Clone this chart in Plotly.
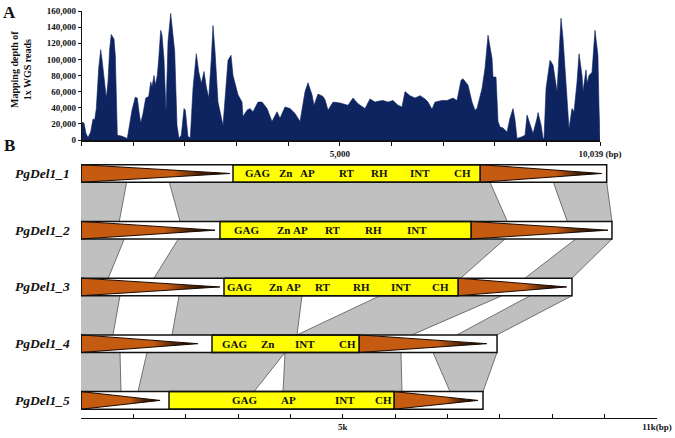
import plotly.graph_objects as go

SERIF = "Liberation Serif, Times New Roman, serif"
NAVY = "#0e2461"
ORANGE = "#c55a11"
YELLOW = "#ffff00"
GREY = "#c0c0c0"

# ---- panel A: mapping depth of 1x WGS reads along the 10,039 bp element
depth_bp = [0, 45, 83, 122, 174, 219, 252, 283, 329, 368, 393, 432, 477, 509, 542,
            573, 626, 651, 690, 767, 833, 883, 930, 974, 1038, 1077, 1110, 1143,
            1188, 1240, 1298, 1337, 1362, 1401, 1426, 1464, 1491, 1530, 1555, 1594,
            1633, 1672, 1724, 1768, 1801, 1846, 1885, 1929, 1982, 2007, 2059, 2104,
            2156, 2220, 2266, 2317, 2369, 2413, 2460, 2510, 2543, 2582, 2640, 2737,
            2834, 2892, 2931, 3028, 3105, 3124, 3202, 3260, 3318, 3415, 3493, 3590,
            3686, 3783, 3841, 3938, 4035, 4132, 4229, 4326, 4383, 4461, 4500, 4577,
            4674, 4713, 4771, 4868, 5003, 5158, 5255, 5352, 5488, 5584, 5681, 5739,
            5836, 5933, 6030, 6127, 6204, 6262, 6359, 6456, 6553, 6650, 6708, 6785,
            6843, 6979, 7076, 7192, 7269, 7347, 7386, 7483, 7560, 7618, 7657, 7754,
            7812, 7870, 7948, 7967, 8025, 8064, 8103, 8161, 8238, 8296, 8354, 8393,
            8432, 8529, 8587, 8626, 8684, 8742, 8819, 8839, 8897, 8936, 8955, 8994,
            9071, 9129, 9207, 9245, 9284, 9323, 9400, 9439, 9497, 9536, 9594, 9633,
            9691, 9710, 9768, 9788, 9826, 9884, 9942, 9999, 10020, 10039]
depth_k = [22, 21, 8, 3, 10, 26, 25, 39, 89, 112, 100, 74, 52, 72, 113,
           131, 125, 105, 6, 5, 3, 2, 20, 37, 53, 52, 35, 21,
           33, 52, 54, 72, 66, 80, 68, 80, 100, 136, 130, 100,
           35, 122, 157, 134, 110, 18, 2, 6, 39, 37, 4, 3,
           64, 107, 85, 70, 85, 66, 52, 100, 142, 110, 47, 18,
           99, 105, 80, 56, 47, 29, 37, 39, 35, 47, 47, 39,
           23, 35, 27, 41, 39, 33, 23, 60, 71, 56, 43, 57,
           54, 50, 37, 47, 46, 43, 52, 45, 39, 51, 47, 48,
           49, 47, 49, 43, 41, 60, 55, 52, 55, 51, 47, 38,
           47, 49, 49, 52, 49, 74, 76, 68, 47, 37, 39, 64,
           89, 130, 101, 78, 78, 23, 16, 15, 10, 27, 39, 25,
           2, 4, 6, 31, 19, 8, 27, 34, 19, 2, 2, 64,
           99, 93, 60, 109, 151, 126, 43, 14, 39, 35, 72, 107,
           80, 60, 87, 70, 80, 84, 136, 105, 40, 0]
depth_reads = [v * 1000 for v in depth_k]

# ---- panel B: PgDel1 copies
rows = ["PgDel1_1", "PgDel1_2", "PgDel1_3", "PgDel1_4", "PgDel1_5"]
row_len = [10039, 10140, 9377, 7945, 7677]
orf_start = [2903, 2654, 2731, 2502, 1681]
orf_end = [7620, 7448, 7200, 5309, 5977]
ltr5_tip = [2845, 2560, 2650, 2230, 1510]
ltr3_tip = [9944, 10064, 9275, 7747, 7582]

domain_names = [
    ["GAG", "Zn", "AP", "RT", "RH", "INT", "CH"],
    ["GAG", "Zn", "AP", "RT", "RH", "INT"],
    ["GAG", "Zn", "AP", "RT", "RH", "INT", "CH"],
    ["GAG", "Zn", "INT", "CH"],
    ["GAG", "AP", "INT", "CH"],
]
domain_pos = [
    [3380, 3896, 4316, 5080, 5691, 6474, 7295],
    [3170, 3858, 4201, 4812, 5595, 6417],
    [3036, 3705, 4049, 4621, 5366, 6111, 6856],
    [2941, 3552, 4278, 5080],
    [3132, 3972, 5042, 5768],
]

# shared (grey) blocks between copy i (top) and copy i+1 (bottom)
band_row = [0, 0, 0, 1, 1, 1, 2, 2, 2, 2, 3, 3, 3, 3]
band_top_start = [0, 1686, 9020, 0, 1858, 9447, 0, 1872, 5710, 8574, 0, 1260, 3896, 6722]
band_top_end = [872, 7811, 10039, 827, 8097, 10140, 745, 4220, 8040, 9377, 745, 3896, 6111, 7945]
band_bot_start = [0, 1891, 9287, 0, 1394, 8479, 0, 1738, 4125, 7180, 0, 1089, 3858, 7047]
band_bot_end = [731, 8141, 10140, 521, 7251, 9377, 611, 4125, 6321, 7945, 764, 3304, 6130, 7677]

H_BAR = 0.155

fig = go.Figure()

# panel A area
fig.add_trace(go.Scatter(
    x=depth_bp, y=depth_reads, mode="lines", fill="tozeroy",
    fillcolor=NAVY, line=dict(color=NAVY, width=0.6),
    xaxis="x", yaxis="y", hoverinfo="skip"))

# grey homology bands
for r, ts, te, bs, be in zip(band_row, band_top_start, band_top_end,
                             band_bot_start, band_bot_end):
    yt, yb = r + H_BAR, r + 1 - H_BAR
    fig.add_trace(go.Scatter(
        x=[ts, te, be, bs, ts], y=[yt, yt, yb, yb, yt], mode="lines",
        fill="toself", fillcolor=GREY, line=dict(width=0),
        xaxis="x2", yaxis="y2", hoverinfo="skip"))
    ex, ey = [], []
    if not (ts == 0 and bs == 0):
        ex += [ts, bs, None]
        ey += [yt, yb, None]
    ex += [te, be, None]
    ey += [yt, yb, None]
    fig.add_trace(go.Scatter(
        x=ex, y=ey, mode="lines", line=dict(color="#555555", width=0.8),
        xaxis="x2", yaxis="y2", hoverinfo="skip"))

tri_grad = dict(type="horizontal",
                colorscale=[[0, ORANGE], [0.62, ORANGE], [0.8, "#4a2006"], [1, "#000000"]])

for i, name in enumerate(rows):
    y0, y1 = i - H_BAR, i + H_BAR
    L, s, e = row_len[i], orf_start[i], orf_end[i]
    # white body
    fig.add_trace(go.Scatter(
        x=[0, L, L, 0, 0], y=[y0, y0, y1, y1, y0], mode="lines", fill="toself",
        fillcolor="white", line=dict(width=0), xaxis="x2", yaxis="y2",
        hoverinfo="skip"))
    # LTR triangles
    for bx, tx in [(0, ltr5_tip[i]), (e, ltr3_tip[i])]:
        fig.add_trace(go.Scatter(
            x=[bx, bx, tx, bx], y=[y0, y1, i, y0], mode="lines", fill="toself",
            fillgradient=tri_grad, fillcolor=ORANGE,
            line=dict(color="#1a0a00", width=1),
            xaxis="x2", yaxis="y2", hoverinfo="skip"))
    # ORF box
    fig.add_trace(go.Scatter(
        x=[s, e, e, s, s], y=[y0, y0, y1, y1, y0], mode="lines", fill="toself",
        fillcolor=YELLOW, line=dict(color="#111111", width=1.5),
        xaxis="x2", yaxis="y2", hoverinfo="skip"))
    # outline
    fig.add_trace(go.Scatter(
        x=[0, L, L, 0, 0], y=[y0, y0, y1, y1, y0], mode="lines",
        line=dict(color="#111111", width=1.5), xaxis="x2", yaxis="y2",
        hoverinfo="skip"))
    # domain labels
    for lab, pos in zip(domain_names[i], domain_pos[i]):
        fig.add_annotation(x=pos, y=i, xref="x2", yref="y2", text=f"<b>{lab}</b>",
                           xanchor="center", yanchor="middle", showarrow=False,
                           font=dict(family=SERIF, size=11, color="#111111"))
    fig.add_annotation(x=72 / 675, y=i, xref="paper", yref="y2",
                       text=f"<b><i>{name}</i></b>", xanchor="right", yanchor="middle",
                       showarrow=False,
                       font=dict(family=SERIF, size=13.5, color="#111111"))

fig.add_annotation(x=9 / 675, y=1 - 13 / 438, xref="paper", yref="paper", text="<b>A</b>",
                   xanchor="center", yanchor="middle", showarrow=False,
                   font=dict(family=SERIF, size=17, color="#111111"))
fig.add_annotation(x=9 / 675, y=1 - 146 / 438, xref="paper", yref="paper", text="<b>B</b>",
                   xanchor="center", yanchor="middle", showarrow=False,
                   font=dict(family=SERIF, size=17, color="#111111"))
fig.add_annotation(x=21 / 675, y=1 - 70 / 438, xref="paper", yref="paper",
                   text="<b>Mapping depth of<br>1x WGS reads</b>", textangle=-90,
                   xanchor="center", yanchor="middle", showarrow=False,
                   font=dict(family=SERIF, size=10, color="#111111"))

a_ticks = list(range(0, 10000, 1000)) + [10039]
a_text = ["5,000" if t == 5000 else "10,039 (bp)" if t == 10039 else "" for t in a_ticks]
b_ticks = list(range(0, 11001, 1000))
b_text = ["5k" if t == 5000 else "11k(bp)" if t == 11000 else "" for t in b_ticks]
tickfont = dict(family=SERIF, size=9, color="#111111", weight="bold")

fig.update_layout(
    width=675, height=438, margin=dict(l=0, r=0, t=0, b=0, autoexpand=False),
    paper_bgcolor="white", plot_bgcolor="white", showlegend=False,
    xaxis=dict(domain=[81.7 / 675, 600 / 675], range=[0, 10039], anchor="y",
               showline=True, linecolor="#111111", linewidth=1.5, ticks="outside",
               ticklen=4, tickcolor="#111111", tickvals=a_ticks, ticktext=a_text,
               tickfont=tickfont, showgrid=False, zeroline=False, automargin=False),
    yaxis=dict(domain=[1 - 140 / 438, 1 - 11 / 438], range=[0, 160000], anchor="x",
               showline=True, linecolor="#111111", linewidth=1, ticks="outside",
               ticklen=3, tickcolor="#111111", tickvals=list(range(0, 160001, 20000)),
               tickformat=",d", tickfont=tickfont, showgrid=False, zeroline=False,
               automargin=False),
    xaxis2=dict(domain=[81 / 675, 657 / 675], range=[0, 11000], anchor="y2",
                showline=True, linecolor="#111111", linewidth=1, ticks="inside",
                ticklen=4, tickcolor="#111111", tickvals=b_ticks, ticktext=b_text,
                tickfont=tickfont, showgrid=False, zeroline=False, automargin=False),
    yaxis2=dict(domain=[1 - 418 / 438, 1 - 145.1 / 438], range=[4.31, -0.5],
                anchor="x2", visible=False, showgrid=False, zeroline=False),
)

fig.write_html("out.html", config={"displayModeBar": False},
               post_script="document.body.style.margin='0px';")
